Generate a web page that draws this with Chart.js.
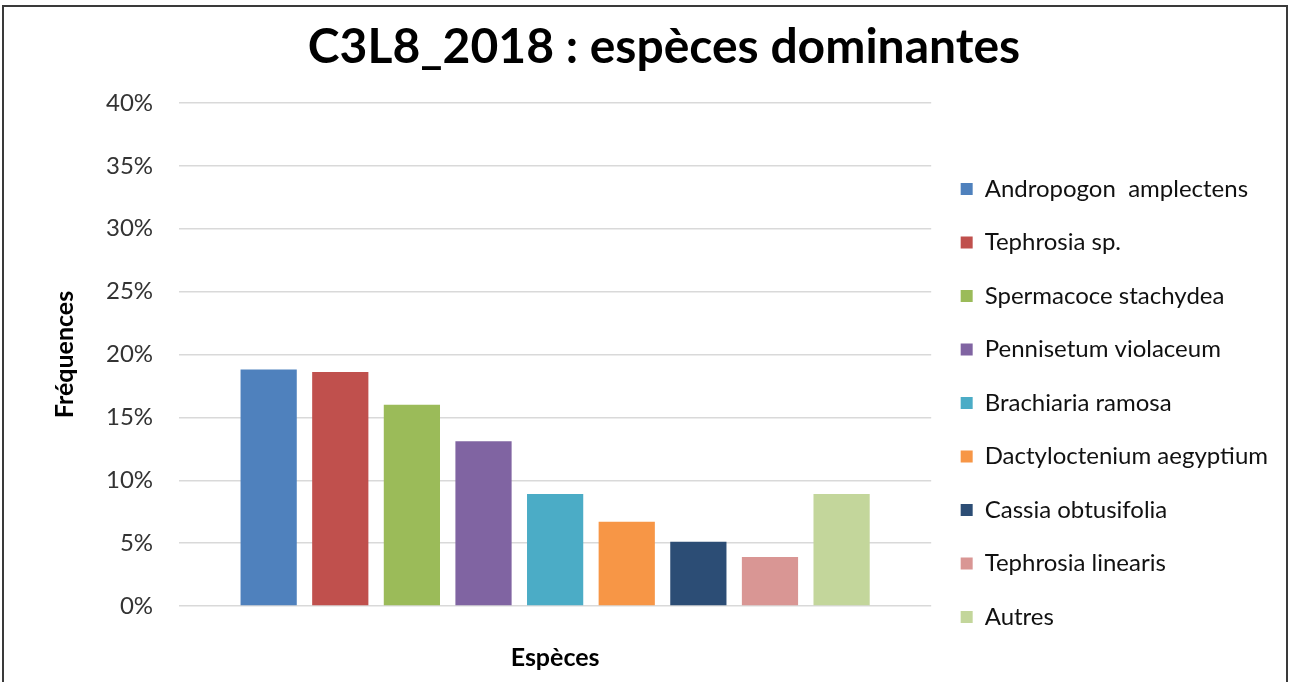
<!DOCTYPE html>
<html>
<head>
<meta charset="utf-8">
<script src="https://cdn.jsdelivr.net/npm/chart.js@4"></script>
<style>
  html, body { margin: 0; padding: 0; background: #fff; }
  #wrap { position: relative; width: 1290px; height: 682px; overflow: hidden; }
  #c { position: absolute; left: 0; top: 0; }
  #frame { position: absolute; left: 2px; top: 5px; width: 1282px; height: 690px; border: 2px solid #3a3a3a; pointer-events: none; }
</style>
</head>
<body>
<div id="wrap">
  <canvas id="c" width="1290" height="682"></canvas>
  <div id="frame"></div>
</div>
<script>
const categories = [''];
const species = [
  'Andropogon  amplectens',
  'Tephrosia sp.',
  'Spermacoce stachydea',
  'Pennisetum violaceum',
  'Brachiaria ramosa',
  'Dactyloctenium aegyptium',
  'Cassia obtusifolia',
  'Tephrosia linearis',
  'Autres'
];
const frequencies = [18.8, 18.6, 16.0, 13.1, 8.9, 6.7, 5.1, 3.9, 8.9];
const yTicks = [0, 5, 10, 15, 20, 25, 30, 35, 40];
const colors = ['#4F81BD', '#C0504D', '#9BBB59', '#8064A2', '#4BACC6', '#F79646', '#2C4D75', '#D99694', '#C3D69B'];

const FONT = 'Lato, "Open Sans", sans-serif';

const datasets = species.map((name, i) => ({
  label: name,
  data: [frequencies[i]],
  backgroundColor: colors[i],
  borderWidth: 0,
  barPercentage: 0.785,
  categoryPercentage: 0.857
}));

new Chart(document.getElementById('c'), {
  type: 'bar',
  data: { labels: categories, datasets },
  options: {
    responsive: false,
    animation: false,
    layout: { padding: { left: 50, right: 12, top: 10, bottom: 6 } },
    plugins: {
      title: {
        display: true,
        text: 'C3L8_2018 : espèces dominantes',
        color: '#000',
        font: { family: FONT, size: 48, weight: 'bold' },
        padding: { top: 9, bottom: 26.4 }
      },
      legend: {
        position: 'right',
        align: 'start',
        maxWidth: 400,
        title: { display: true, text: '', padding: { top: 123, bottom: 0 } },
        labels: {
          boxWidth: 12,
          boxHeight: 12,
          padding: 29.5,
          color: '#111',
          font: { family: FONT, size: 24 }
        }
      },
      tooltip: { enabled: false }
    },
    scales: {
      x: {
        grid: { display: false },
        border: { display: false },
        ticks: { display: false },
        title: {
          display: true,
          text: 'Espèces',
          color: '#000',
          font: { family: FONT, size: 25, weight: 'bold' },
          padding: { top: 29, bottom: 3 }
        }
      },
      y: {
        min: 0,
        max: 40,
        border: { display: false },
        grid: { color: '#d9d9d9', lineWidth: 1.5, drawTicks: false },
        afterBuildTicks: (axis) => { axis.ticks = yTicks.map(v => ({ value: v })); },
        ticks: {
          padding: 26,
          color: '#333',
          font: { family: FONT, size: 24 },
          callback: (v) => v + '%'
        },
        title: {
          display: true,
          text: 'Fréquences',
          color: '#000',
          font: { family: FONT, size: 25, weight: 'bold' },
          padding: { top: 0, bottom: 0 }
        }
      }
    }
  }
});
</script>
</body>
</html>
